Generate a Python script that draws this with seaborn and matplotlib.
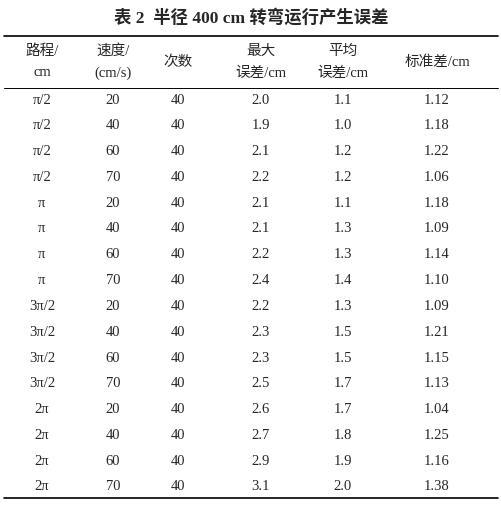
import matplotlib
matplotlib.use("Agg")
import matplotlib.pyplot as plt
import seaborn as sns

sns.set_style("white")
plt.rcParams['font.family'] = ['Liberation Serif', 'Noto Sans CJK SC', 'DejaVu Sans']

title = "表 2  半径 400 cm 转弯运行产生误差"
headers = [["路程/", "cm"], ["速度/", "(cm/s)"], ["次数"], ["最大", "误差/cm"], ["平均", "误差/cm"], ["标准差/cm"]]
path = ["π/2"] * 4 + ["π"] * 4 + ["3π/2"] * 4 + ["2π"] * 4
speed = [20, 40, 60, 70] * 4
count = [40] * 16
max_err = ["2.0", "1.9", "2.1", "2.2", "2.1", "2.1", "2.2", "2.4",
           "2.2", "2.3", "2.3", "2.5", "2.6", "2.7", "2.9", "3.1"]
mean_err = ["1.1", "1.0", "1.2", "1.2", "1.1", "1.3", "1.3", "1.4",
            "1.3", "1.5", "1.5", "1.7", "1.7", "1.8", "1.9", "2.0"]
std_err = ["1.12", "1.18", "1.22", "1.06", "1.18", "1.09", "1.14", "1.10",
           "1.09", "1.21", "1.15", "1.13", "1.04", "1.25", "1.16", "1.38"]

col_x = [42, 113, 178, 261, 343, 437]

fig = plt.figure(figsize=(5.02, 5.07), dpi=100)
ax = fig.add_axes([0, 0, 1, 1])
ax.set_xlim(0, 502)
ax.set_ylim(507, 0)
ax.axis("off")

ax.text(251, 18, title, ha="center", va="center", fontsize=12.5, fontweight="bold")
ax.plot([4, 498], [36, 36], color="black", lw=1.2)
ax.plot([4, 498], [88, 88], color="black", lw=0.7)
ax.plot([4, 498], [498, 498], color="black", lw=1.2)

for x, h in zip(col_x, headers):
    if len(h) == 2:
        ax.text(x, 51, h[0], ha="center", va="center", fontsize=10.5)
        ax.text(x, 73, h[1], ha="center", va="center", fontsize=10.5)
    else:
        ax.text(x, 62, h[0], ha="center", va="center", fontsize=10.5)

for i in range(16):
    y = 100 + i * 25.8
    row = [path[i], str(speed[i]), str(count[i]), max_err[i], mean_err[i], std_err[i]]
    for x, v in zip(col_x, row):
        ax.text(x, y, v, ha="center", va="center", fontsize=10.5)

fig.savefig("out.png", dpi=100, facecolor="white")
